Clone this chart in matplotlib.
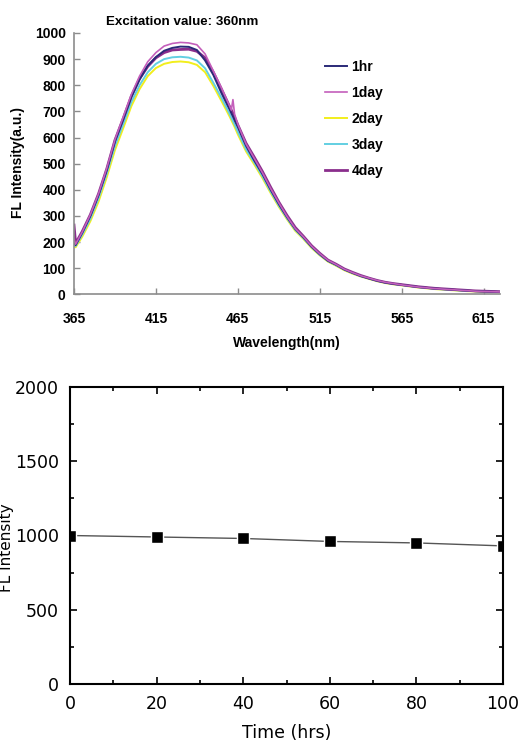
import matplotlib
matplotlib.use("Agg")
import matplotlib.pyplot as plt
from matplotlib.ticker import MultipleLocator

# ---------------- data: spectra ----------------
wavelength = [365, 366, 370, 375, 380, 385, 390, 395, 400, 405, 410, 415, 420, 425, 430,
              435, 440, 445, 450, 455, 460, 461, 462, 463, 465, 470, 475, 480, 485, 490,
              495, 500, 505, 510, 515, 520, 525, 530, 535, 540, 545, 550, 555, 560, 565,
              570, 575, 580, 585, 590, 595, 600, 605, 610, 615, 620, 625]

fl_1hr = [200, 188, 235, 300, 380, 475, 585, 668, 755, 822, 875, 908, 932, 943, 948,
          947, 935, 895, 840, 770, 707, 693, 680, 666, 640, 568, 512, 460, 400, 345,
          295, 250, 218, 182, 153, 128, 113, 95, 82, 70, 61, 52, 45, 40, 36,
          32, 28, 25, 22, 20, 18, 16, 14, 12, 11, 10, 9]
fl_1day = [210, 192, 238, 305, 385, 482, 592, 678, 765, 835, 890, 925, 950, 960, 964,
           962, 955, 920, 855, 790, 720, 705, 745, 690, 650, 575, 520, 465, 405, 350,
           298, 252, 220, 184, 155, 130, 114, 96, 83, 71, 62, 53, 46, 41, 36,
           32, 28, 25, 22, 20, 18, 16, 14, 12, 11, 10, 9]
fl_2day = [185, 180, 220, 280, 355, 448, 552, 635, 720, 785, 835, 866, 882, 889, 891,
           888, 878, 850, 798, 740, 680, 667, 654, 641, 612, 547, 497, 445, 388, 335,
           287, 243, 212, 177, 149, 125, 109, 92, 79, 68, 59, 50, 43, 38, 34,
           30, 26, 23, 20, 18, 16, 14, 12, 11, 10, 9, 8]
fl_3day = [195, 185, 228, 290, 368, 462, 568, 650, 735, 800, 850, 882, 900, 907, 909,
           906, 895, 865, 810, 752, 690, 676, 663, 650, 622, 555, 505, 452, 394, 340,
           291, 247, 215, 180, 151, 127, 111, 94, 81, 69, 60, 51, 44, 39, 35,
           31, 27, 24, 21, 19, 17, 15, 13, 12, 11, 10, 9]
fl_4day = [265, 195, 240, 305, 385, 480, 590, 672, 758, 825, 872, 905, 925, 935, 937,
           938, 930, 905, 850, 785, 718, 705, 692, 678, 648, 578, 525, 470, 410, 353,
           302, 256, 222, 186, 157, 131, 115, 97, 84, 72, 62, 53, 46, 41, 37,
           33, 29, 26, 23, 21, 19, 17, 15, 13, 12, 11, 10]

series_labels = ["1hr", "1day", "2day", "3day", "4day"]
series_values = [fl_1hr, fl_1day, fl_2day, fl_3day, fl_4day]
series_colors = ["#2b2a78", "#c45fbb", "#f2ee1c", "#62cfe2", "#8a2e8c"]
series_widths = [1.4, 1.2, 1.4, 1.4, 2.0]

x_ticks_top = [365, 415, 465, 515, 565, 615]
y_ticks_top = [0, 100, 200, 300, 400, 500, 600, 700, 800, 900, 1000]

# ---------------- data: time stability ----------------
time_hrs = [0, 20, 40, 60, 80, 100]
intensity = [1000, 990, 980, 960, 950, 930]

W, H = 520, 742
fig = plt.figure(figsize=(W / 100, H / 100), dpi=100)

bold_font = dict(family=["Liberation Sans", "DejaVu Sans"], weight="bold")

# ---------------- top axes ----------------
ax1 = fig.add_axes([74 / W, 1 - 294.3 / H, 426 / W, 261.3 / H])
lines = {}
for i in [2, 3, 4, 0, 1]:
    ln, = ax1.plot(wavelength, series_values[i], color=series_colors[i],
                   lw=series_widths[i], label=series_labels[i])
    lines[i] = ln
ax1.set_xlim(365, 625)
ax1.set_ylim(0, 1000)
ax1.set_xticks(x_ticks_top)
ax1.set_yticks(y_ticks_top)
for s in ["top", "right"]:
    ax1.spines[s].set_visible(False)
for s in ["left", "bottom"]:
    ax1.spines[s].set_color("#8c8c8c")
    ax1.spines[s].set_linewidth(1.2)
ax1.tick_params(axis="both", direction="in", length=4, width=1, color="#8c8c8c",
                labelsize=10)
ax1.tick_params(axis="x", pad=13)
ax1.tick_params(axis="y", pad=6)
for lab in ax1.get_xticklabels() + ax1.get_yticklabels():
    lab.set_fontfamily(["Liberation Sans", "DejaVu Sans"])
    lab.set_fontweight("bold")

leg = ax1.legend([lines[i] for i in range(5)], series_labels, loc="upper left",
                 bbox_to_anchor=(318 / W, 1 - 53 / H), bbox_transform=fig.transFigure,
                 frameon=False, handlelength=1.6, handletextpad=0.3,
                 labelspacing=0.86, borderpad=0,
                 prop=dict(family=["Liberation Sans", "DejaVu Sans"], weight="bold", size=10))

fig.text(182 / W, 1 - 22 / H, "Excitation value: 360nm", ha="center", va="center",
         fontsize=9.6, **bold_font)
fig.text(18 / W, 1 - 162 / H, "FL Intensity(a.u.)", ha="center", va="center",
         rotation=90, fontsize=10, **bold_font)
fig.text(287 / W, 1 - 343 / H, "Wavelength(nm)", ha="center", va="center",
         fontsize=10, **bold_font)

# ---------------- bottom axes ----------------
ax2 = fig.add_axes([70 / W, 1 - 684 / H, 433 / W, 297 / H])
ax2.plot(time_hrs, intensity, color="#555555", lw=1.0, marker="s", markersize=8,
         markerfacecolor="black", markeredgecolor="white", markeredgewidth=1.0)
ax2.set_xlim(0, 100)
ax2.set_ylim(0, 2000)
ax2.xaxis.set_major_locator(MultipleLocator(20))
ax2.xaxis.set_minor_locator(MultipleLocator(10))
ax2.yaxis.set_major_locator(MultipleLocator(500))
ax2.yaxis.set_minor_locator(MultipleLocator(250))
for s in ax2.spines.values():
    s.set_linewidth(1.5)
    s.set_color("black")
ax2.tick_params(which="both", direction="in", top=True, right=True, width=1.2)
ax2.tick_params(which="major", length=5, labelsize=12.5, pad=8)
ax2.tick_params(which="minor", length=3)
ax2.set_xlabel("Time (hrs)", fontsize=12.5, labelpad=8)
fig.text(7 / W, 1 - 548 / H, "FL Intensity", ha="center", va="center",
         rotation=90, fontsize=11)

fig.savefig("out.png", dpi=100)
